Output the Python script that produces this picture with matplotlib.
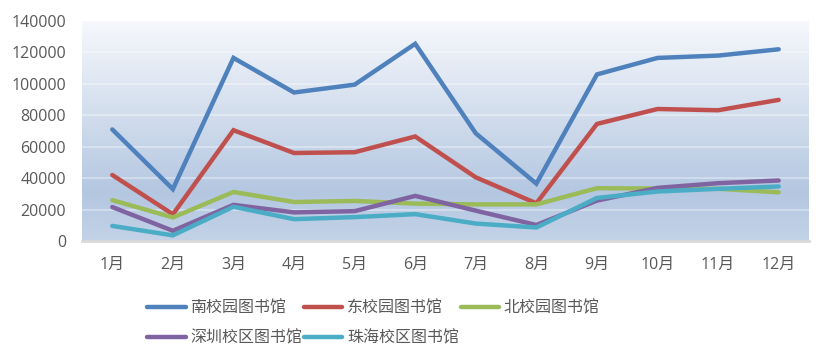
import matplotlib.pyplot as plt
plt.matplotlib.use('Agg')
import numpy as np
from matplotlib.colors import LinearSegmentedColormap

plt.rcParams['font.family'] = ['Open Sans', 'Noto Sans CJK SC', 'DejaVu Sans']

# data
months = ['1月', '2月', '3月', '4月', '5月', '6月', '7月', '8月', '9月', '10月', '11月', '12月']
south = [71000, 33000, 116500, 94500, 99500, 125500, 68500, 36500, 106000, 116500, 118000, 122000]
east = [42000, 17000, 70500, 56000, 56500, 66500, 40500, 24000, 74500, 84000, 83200, 89800]
north = [26000, 15000, 31200, 24800, 25500, 23800, 23300, 23300, 33600, 33400, 33200, 31000]
shenzhen = [21600, 6500, 23000, 18200, 19000, 28700, 19300, 10200, 25700, 33800, 36800, 38500]
zhuhai = [9600, 3600, 21800, 13900, 15200, 17100, 11100, 8600, 27400, 31500, 33200, 34700]

names = ['南校园图书馆', '东校园图书馆', '北校园图书馆', '深圳校区图书馆', '珠海校区图书馆']
colors = ['#4F81BD', '#C0504D', '#9BBB59', '#8064A2', '#4BACC6']
series = [south, east, north, shenzhen, zhuhai]

fig = plt.figure(figsize=(8.32, 3.62), dpi=100)
ax = fig.add_axes([82/832, 1-241/362, 727/832, 220/362])

# plot area gradient: near white at top, light blue lower down
cmap = LinearSegmentedColormap.from_list('bg', [(0, '#F6F8FC'), (0.78, '#B4C7E1'), (1, '#C3D2E7')])
grad = np.linspace(0, 1, 256).reshape(-1, 1)
ax.imshow(grad, cmap=cmap, aspect='auto', extent=[0, 1, 0, 1], transform=ax.transAxes, zorder=0)

x = np.arange(len(months))
lines = []
for vals, c, n in zip(series, colors, names):
    ln, = ax.plot(x, vals, color=c, lw=3.2, label=n, solid_capstyle='round', solid_joinstyle='miter', zorder=3)
    lines.append(ln)

ax.set_xlim(-0.5, 11.5)
ax.set_ylim(0, 140000)
ax.set_yticks(range(0, 140001, 20000))
ax.set_xticks(x)
ax.set_xticklabels(months)
for y in range(20000, 140001, 20000):
    ax.axhline(y, color='white', lw=1.2, alpha=0.4, zorder=1)

for s in ['top', 'right', 'left']:
    ax.spines[s].set_visible(False)
ax.spines['bottom'].set_color('#D9D9D9')
ax.spines['bottom'].set_linewidth(2)
ax.tick_params(left=False, bottom=False, labelsize=11.5, colors='#595959', pad=8)
ax.tick_params(axis='x', pad=8)

# legend filled row by row like the original
order = [0, 3, 1, 4, 2]
fig.legend([lines[i] for i in order], [names[i] for i in order],
           loc='upper left', bbox_to_anchor=(133/832, 1-286/362), ncol=3, frameon=False,
           fontsize=11.5, handlelength=2.4, handletextpad=0.3, columnspacing=0.1,
           labelspacing=0.9, labelcolor='#595959')

plt.savefig('out.png', dpi=100)
plt.close()
